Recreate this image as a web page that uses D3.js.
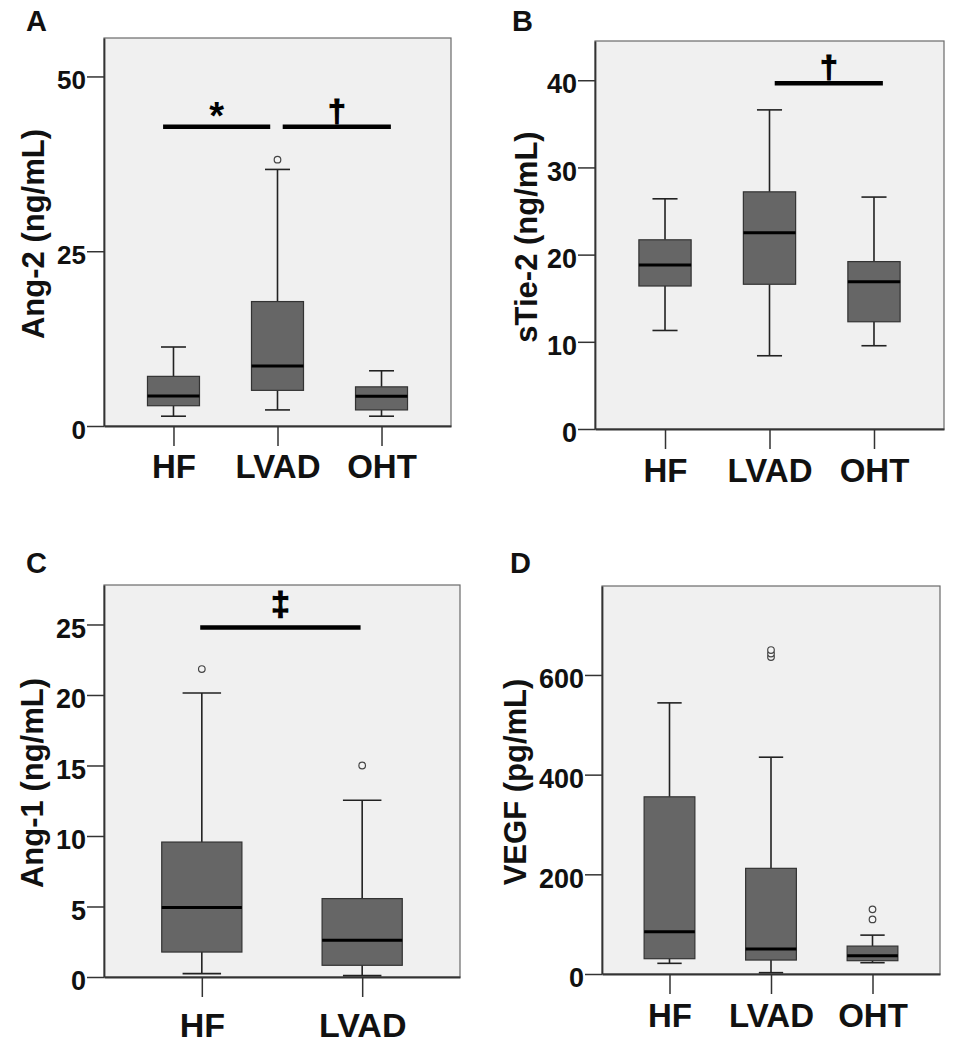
<!DOCTYPE html>
<html>
<head>
<meta charset="utf-8">
<script src="https://cdn.jsdelivr.net/npm/d3@7"></script>
<style>
  html, body { margin: 0; padding: 0; background: #ffffff; }
  svg { display: block; font-family: "Liberation Sans", Arial, sans-serif; }
</style>
</head>
<body>
<svg id="chart" width="956" height="1050"></svg>
<script>
// ---------------- DATA ----------------
// five-number summaries per category: [whiskerLow, Q1, median, Q3, whiskerHigh]
const groups3 = ["HF", "LVAD", "OHT"];
const groups2 = ["HF", "LVAD"];

const ang2Box = [[1.4, 2.9, 4.3, 7.1, 11.3], [2.3, 5.1, 8.6, 17.8, 36.7], [1.4, 2.3, 4.25, 5.6, 7.9]];
const ang2Outliers = [[], [38.1], []];
const ang2Ticks = [0, 25, 50];
const ang2Sig = [{ from: "HF", to: "LVAD", y: 42.8, sym: "*" }, { from: "LVAD", to: "OHT", y: 42.8, sym: "\u2020" }];

const tie2Box = [[11.3, 16.4, 18.8, 21.7, 26.4], [8.4, 16.6, 22.5, 27.2, 36.6], [9.55, 12.3, 16.9, 19.2, 26.6]];
const tie2Outliers = [[], [], []];
const tie2Ticks = [0, 10, 20, 30, 40];
const tie2Sig = [{ from: "LVAD", to: "OHT", y: 39.65, sym: "\u2020" }];

const ang1Box = [[0.24, 1.77, 4.92, 9.57, 20.14], [0.1, 0.83, 2.6, 5.56, 12.53]];
const ang1Outliers = [[21.84], [15.0]];
const ang1Ticks = [0, 5, 10, 15, 20, 25];
const ang1Sig = [{ from: "HF", to: "LVAD", y: 24.78, sym: "\u2021" }];

const vegfBox = [[21.4, 30.7, 84.8, 355.5, 544], [2.7, 28, 50, 212, 435], [22.7, 26.7, 36.8, 56, 78]];
const vegfOutliers = [[], [636, 643, 650], [109.6, 129.7]];
const vegfTicks = [0, 200, 400, 600];
const vegfSig = [];

// ---------------- LAYOUT ----------------
const panels = [
  { letter: "A", lx: 26, ly: 31, left: 104, right: 451, top: 38, bottom: 426, yMax: 55.5, pad: 0.668,
    cats: groups3, box: ang2Box, out: ang2Outliers, ticks: ang2Ticks, sig: ang2Sig,
    sigOff: [[-0.1, -0.07], [0.05, 0.09]], title: "Ang-2 (ng/mL)", titleX: 33, tickFont: 26, catFont: 33, catY: 52 },
  { letter: "B", lx: 512, ly: 31, left: 595, right: 944, top: 41, bottom: 429, yMax: 44.5, pad: 0.67,
    cats: groups3, box: tie2Box, out: tie2Outliers, ticks: tie2Ticks, sig: tie2Sig,
    sigOff: [[0.05, 0.085]], title: "sTie-2 (ng/mL)", titleX: 526, tickFont: 27, catFont: 33, catY: 53 },
  { letter: "C", lx: 26, ly: 573, left: 104, right: 460, top: 585, bottom: 977, yMax: 27.8, pad: 0.61,
    cats: groups2, box: ang1Box, out: ang1Outliers, ticks: ang1Ticks, sig: ang1Sig,
    sigOff: [[-0.01, -0.01]], title: "Ang-1 (ng/mL)", titleX: 32, tickFont: 27, catFont: 34, catY: 60 },
  { letter: "D", lx: 510, ly: 573, left: 602, right: 940, top: 586, bottom: 974, yMax: 778.5, pad: 0.665,
    cats: groups3, box: vegfBox, out: vegfOutliers, ticks: vegfTicks, sig: vegfSig,
    sigOff: [], title: "VEGF (pg/mL)", titleX: 515, tickFont: 27, catFont: 33, catY: 53 }
];

const svg = d3.select("#chart");

panels.forEach(p => {
  const g = svg.append("g");
  const y = d3.scaleLinear().domain([0, p.yMax]).range([p.bottom, p.top]);
  const x = d3.scalePoint().domain(p.cats).range([p.left, p.right]).padding(p.pad);
  const step = x.step();

  // panel letter
  g.append("text").attr("x", p.lx).attr("y", p.ly)
    .attr("font-size", 29).attr("font-weight", "bold").attr("fill", "#111").text(p.letter);

  // plot background + frame
  g.append("rect").attr("x", p.left).attr("y", p.top)
    .attr("width", p.right - p.left).attr("height", p.bottom - p.top)
    .attr("fill", "#f0f0f0").attr("stroke", "#6a6a6a").attr("stroke-width", 1.2);

  // y axis
  const ya = g.append("g").attr("transform", `translate(${p.left},0)`)
    .call(d3.axisLeft(y).tickValues(p.ticks).tickSize(17).tickSizeOuter(0).tickFormat(d3.format("d")));
  ya.select(".domain").attr("stroke", "#333").attr("stroke-width", 1.8);
  ya.selectAll(".tick line").attr("stroke", "#333").attr("stroke-width", 1.5);
  ya.selectAll(".tick text").attr("x", -18).attr("dy", "0.36em").attr("y", 3)
    .attr("font-size", p.tickFont).attr("font-weight", "bold").attr("fill", "#111")
    .attr("font-family", "Liberation Sans, Arial, sans-serif");

  // x axis
  const xa = g.append("g").attr("transform", `translate(0,${p.bottom})`)
    .call(d3.axisBottom(x).tickSize(20).tickSizeOuter(0));
  xa.select(".domain").attr("stroke", "#333").attr("stroke-width", 1.8);
  xa.selectAll(".tick line").attr("stroke", "#333").attr("stroke-width", 1.5);
  xa.selectAll(".tick text").attr("y", p.catY).attr("dy", 0)
    .attr("font-size", p.catFont).attr("font-weight", "bold").attr("fill", "#111")
    .attr("font-family", "Liberation Sans, Arial, sans-serif");

  // y title
  const cy = (p.top + p.bottom) / 2 + 2;
  g.append("text").attr("transform", `translate(${p.titleX},${cy}) rotate(-90)`)
    .attr("text-anchor", "middle").attr("dominant-baseline", "central")
    .attr("font-size", 31).attr("font-weight", "bold").attr("fill", "#111").text(p.title);

  // boxes
  const bw = step * 0.5, cw = step * 0.24;
  p.cats.forEach((c, i) => {
    const [lo, q1, med, q3, hi] = p.box[i];
    const cx = x(c);
    const bg = g.append("g");
    bg.append("line").attr("x1", cx).attr("x2", cx).attr("y1", y(hi)).attr("y2", y(q3))
      .attr("stroke", "#222").attr("stroke-width", 1.6);
    bg.append("line").attr("x1", cx).attr("x2", cx).attr("y1", y(q1)).attr("y2", y(lo))
      .attr("stroke", "#222").attr("stroke-width", 1.6);
    bg.append("line").attr("x1", cx - cw / 2).attr("x2", cx + cw / 2).attr("y1", y(hi)).attr("y2", y(hi))
      .attr("stroke", "#222").attr("stroke-width", 1.6);
    bg.append("line").attr("x1", cx - cw / 2).attr("x2", cx + cw / 2).attr("y1", y(lo)).attr("y2", y(lo))
      .attr("stroke", "#222").attr("stroke-width", 1.6);
    bg.append("rect").attr("x", cx - bw / 2).attr("y", y(q3))
      .attr("width", bw).attr("height", y(q1) - y(q3))
      .attr("fill", "#666666").attr("stroke", "#333").attr("stroke-width", 1.2);
    bg.append("line").attr("x1", cx - bw / 2).attr("x2", cx + bw / 2).attr("y1", y(med)).attr("y2", y(med))
      .attr("stroke", "#000").attr("stroke-width", 3);
    (p.out[i] || []).forEach(v => {
      bg.append("circle").attr("cx", cx).attr("cy", y(v)).attr("r", 3.3)
        .attr("fill", "#f4f4f4").attr("stroke", "#444").attr("stroke-width", 1.2);
    });
  });

  // significance bars
  p.sig.forEach((s, k) => {
    const off = p.sigOff[k];
    const x1 = x(s.from) + off[0] * step, x2 = x(s.to) + off[1] * step;
    const yy = y(s.y);
    g.append("line").attr("x1", x1).attr("x2", x2).attr("y1", yy).attr("y2", yy)
      .attr("stroke", "#000").attr("stroke-width", 4.5);
    const isStar = s.sym === "*";
    const isDouble = s.sym === "\u2021";
    g.append("text").attr("x", (x1 + x2) / 2).attr("y", yy + (isStar ? 2 : (isDouble ? -13 : -5)))
      .attr("text-anchor", "middle").attr("font-size", isStar ? 38 : (isDouble ? 34 : 32))
      .attr("font-weight", "bold").attr("fill", "#000")
      .attr("stroke", isStar ? "none" : "#000").attr("stroke-width", isStar ? 0 : 1.2)
      .text(s.sym);
  });
});
</script>
</body>
</html>
